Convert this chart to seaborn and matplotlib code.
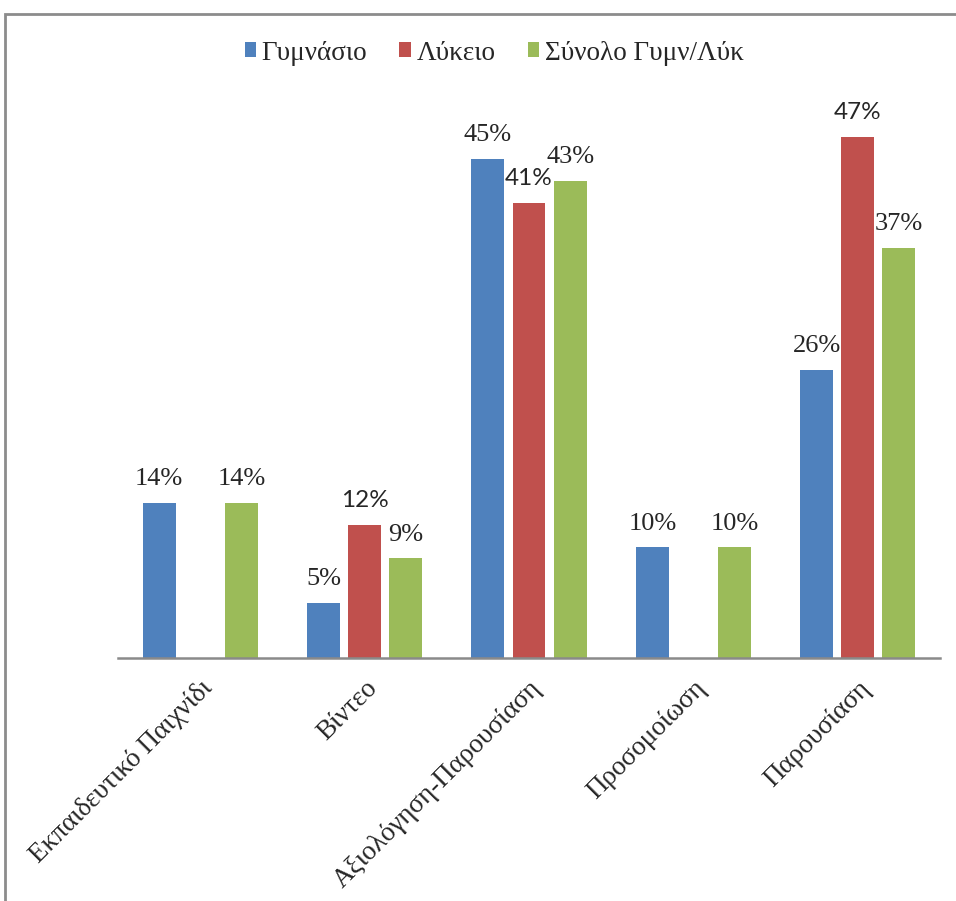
import numpy as np
import pandas as pd
import matplotlib
matplotlib.use("Agg")
import matplotlib.pyplot as plt
from matplotlib.patches import Rectangle
import seaborn as sns

# Survey shares (%) per teaching method
categories = ["Εκπαιδευτικό Παιχνίδι", "Βίντεο", "Αξιολόγηση-Παρουσίαση",
              "Προσομοίωση", "Παρουσίαση"]
series_names = ["Γυμνάσιο", "Λύκειο", "Σύνολο Γυμν/Λύκ"]
gymnasio = [14, 5, 45, 10, 26]
lykeio = [np.nan, 12, 41, np.nan, 47]
synolo = [14, 9, 43, 10, 37]
colors = ["#4F81BD", "#C0504D", "#9BBB59"]

sns.set_style("white")
plt.rcParams["font.family"] = ["Liberation Serif", "DejaVu Serif"]

df = pd.DataFrame({
    "category": categories * 3,
    "group": sum([[n] * len(categories) for n in series_names], []),
    "value": gymnasio + lykeio + synolo,
})

fig = plt.figure(figsize=(9.56, 9.01), dpi=100)
ax = fig.add_axes([118 / 956, (901 - 658) / 901, (940 - 118) / 956, (658 - 80) / 901])

sns.barplot(data=df, x="category", y="value", hue="group", order=categories,
            hue_order=series_names, palette=colors, width=0.75, gap=0.2,
            errorbar=None, saturation=1, ax=ax, linewidth=0)

ax.set_xlim(-0.5, len(categories) - 0.5)
ax.set_ylim(0, 52.1)
ax.set_xlabel("")
ax.set_ylabel("")
ax.set_yticks([])
for s in ["left", "right", "top"]:
    ax.spines[s].set_visible(False)
ax.spines["bottom"].set_color("#8a8a8a")
ax.spines["bottom"].set_linewidth(1.8)
ax.tick_params(axis="x", length=0, pad=13)
for lbl in ax.get_xticklabels():
    lbl.set_rotation(45)
    lbl.set_ha("right")
    lbl.set_va("top")
    lbl.set_rotation_mode("anchor")
    lbl.set_fontsize(19.5)

# value labels above each bar
for i, cont in enumerate(ax.containers):
    labels = []
    for bar in cont:
        h = bar.get_height()
        labels.append("" if (np.isnan(h) or h == 0) else f"{h:.0f}%")
    if i == 1:
        ax.bar_label(cont, labels=labels, padding=10, fontsize=17.5,
                     family=["Lato", "DejaVu Sans"])
    else:
        ax.bar_label(cont, labels=labels, padding=9, fontsize=19)

ax.legend(loc="center", bbox_to_anchor=(494 / 956, 1 - 53 / 901),
          bbox_transform=fig.transFigure, ncol=3, frameon=False, fontsize=19.5,
          handlelength=0.42, handleheight=0.48, handletextpad=0.2,
          columnspacing=1.2)

# outer frame
fig.patches.append(Rectangle((5 / 956, -0.1), 1.2, 1 - 14 / 901 + 0.1,
                             transform=fig.transFigure, fill=False,
                             edgecolor="#8c8c8c", linewidth=2))

fig.savefig("out.png", dpi=100)
